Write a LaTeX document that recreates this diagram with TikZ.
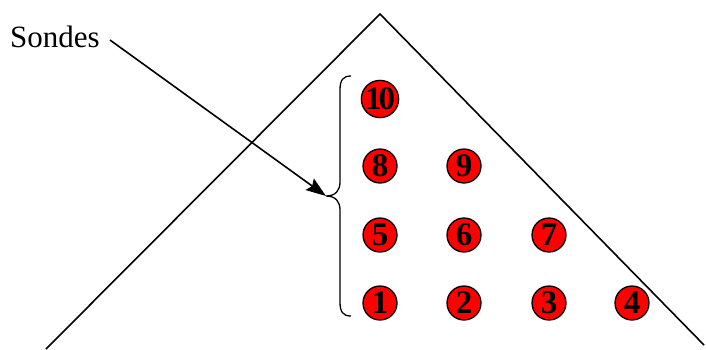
\documentclass[tikz,border=0pt]{standalone}
\usepackage{fontspec}
\setmainfont{Liberation Serif}
\usetikzlibrary{arrows.meta}
\begin{document}
\begin{tikzpicture}[x=1pt,y=-1pt,
  probe/.style={circle,draw=black,line width=1.3pt,fill=red,minimum size=34pt,inner sep=0pt,
    font=\fontsize{33}{33}\selectfont\bfseries},
  line/.style={line width=1.6pt,black}]
\useasboundingbox (0,0) rectangle (706,349);
% triangle
\coordinate (apex) at (380,14);
\coordinate (bl) at (46,349);
\coordinate (br) at (704,345);
\draw[line] (bl) -- (apex) -- (br);
% probes
\node[probe] (p1) at (380,303) {1};
\node[probe] (p2) at (464,303) {2};
\node[probe] (p3) at (549,303) {3};
\node[probe] (p4) at (632,303) {4};
\node[probe] (p5) at (380,235) {5};
\node[probe] (p6) at (464,235) {6};
\node[probe] (p7) at (549,235) {7};
\node[probe] (p8) at (380,166) {8};
\node[probe] (p9) at (464,166) {9};
\node[probe] (p10) at (380,99) {1\hspace{-3pt}0};
% brace
\coordinate (btop) at (351,76);
\coordinate (bbot) at (351,316);
\coordinate (btip) at (326,196);
\draw[line,line width=1.3pt] (btop) .. controls (343,76) and (340,80) .. (340,90)
  -- (340,182) .. controls (340,190) and (336,196) .. (btip)
  .. controls (336,196) and (340,202) .. (340,210)
  -- (340,302) .. controls (340,312) and (343,316) .. (bbot);
% label
\node[font=\fontsize{31}{31}\selectfont,anchor=west,inner sep=0pt] (lab) at (10,37) {Sondes};
\draw[line,-{Stealth[length=20pt,width=14pt,inset=3pt]}] (lab.east)++(10,3) -- (btip);
\end{tikzpicture}
\end{document}
